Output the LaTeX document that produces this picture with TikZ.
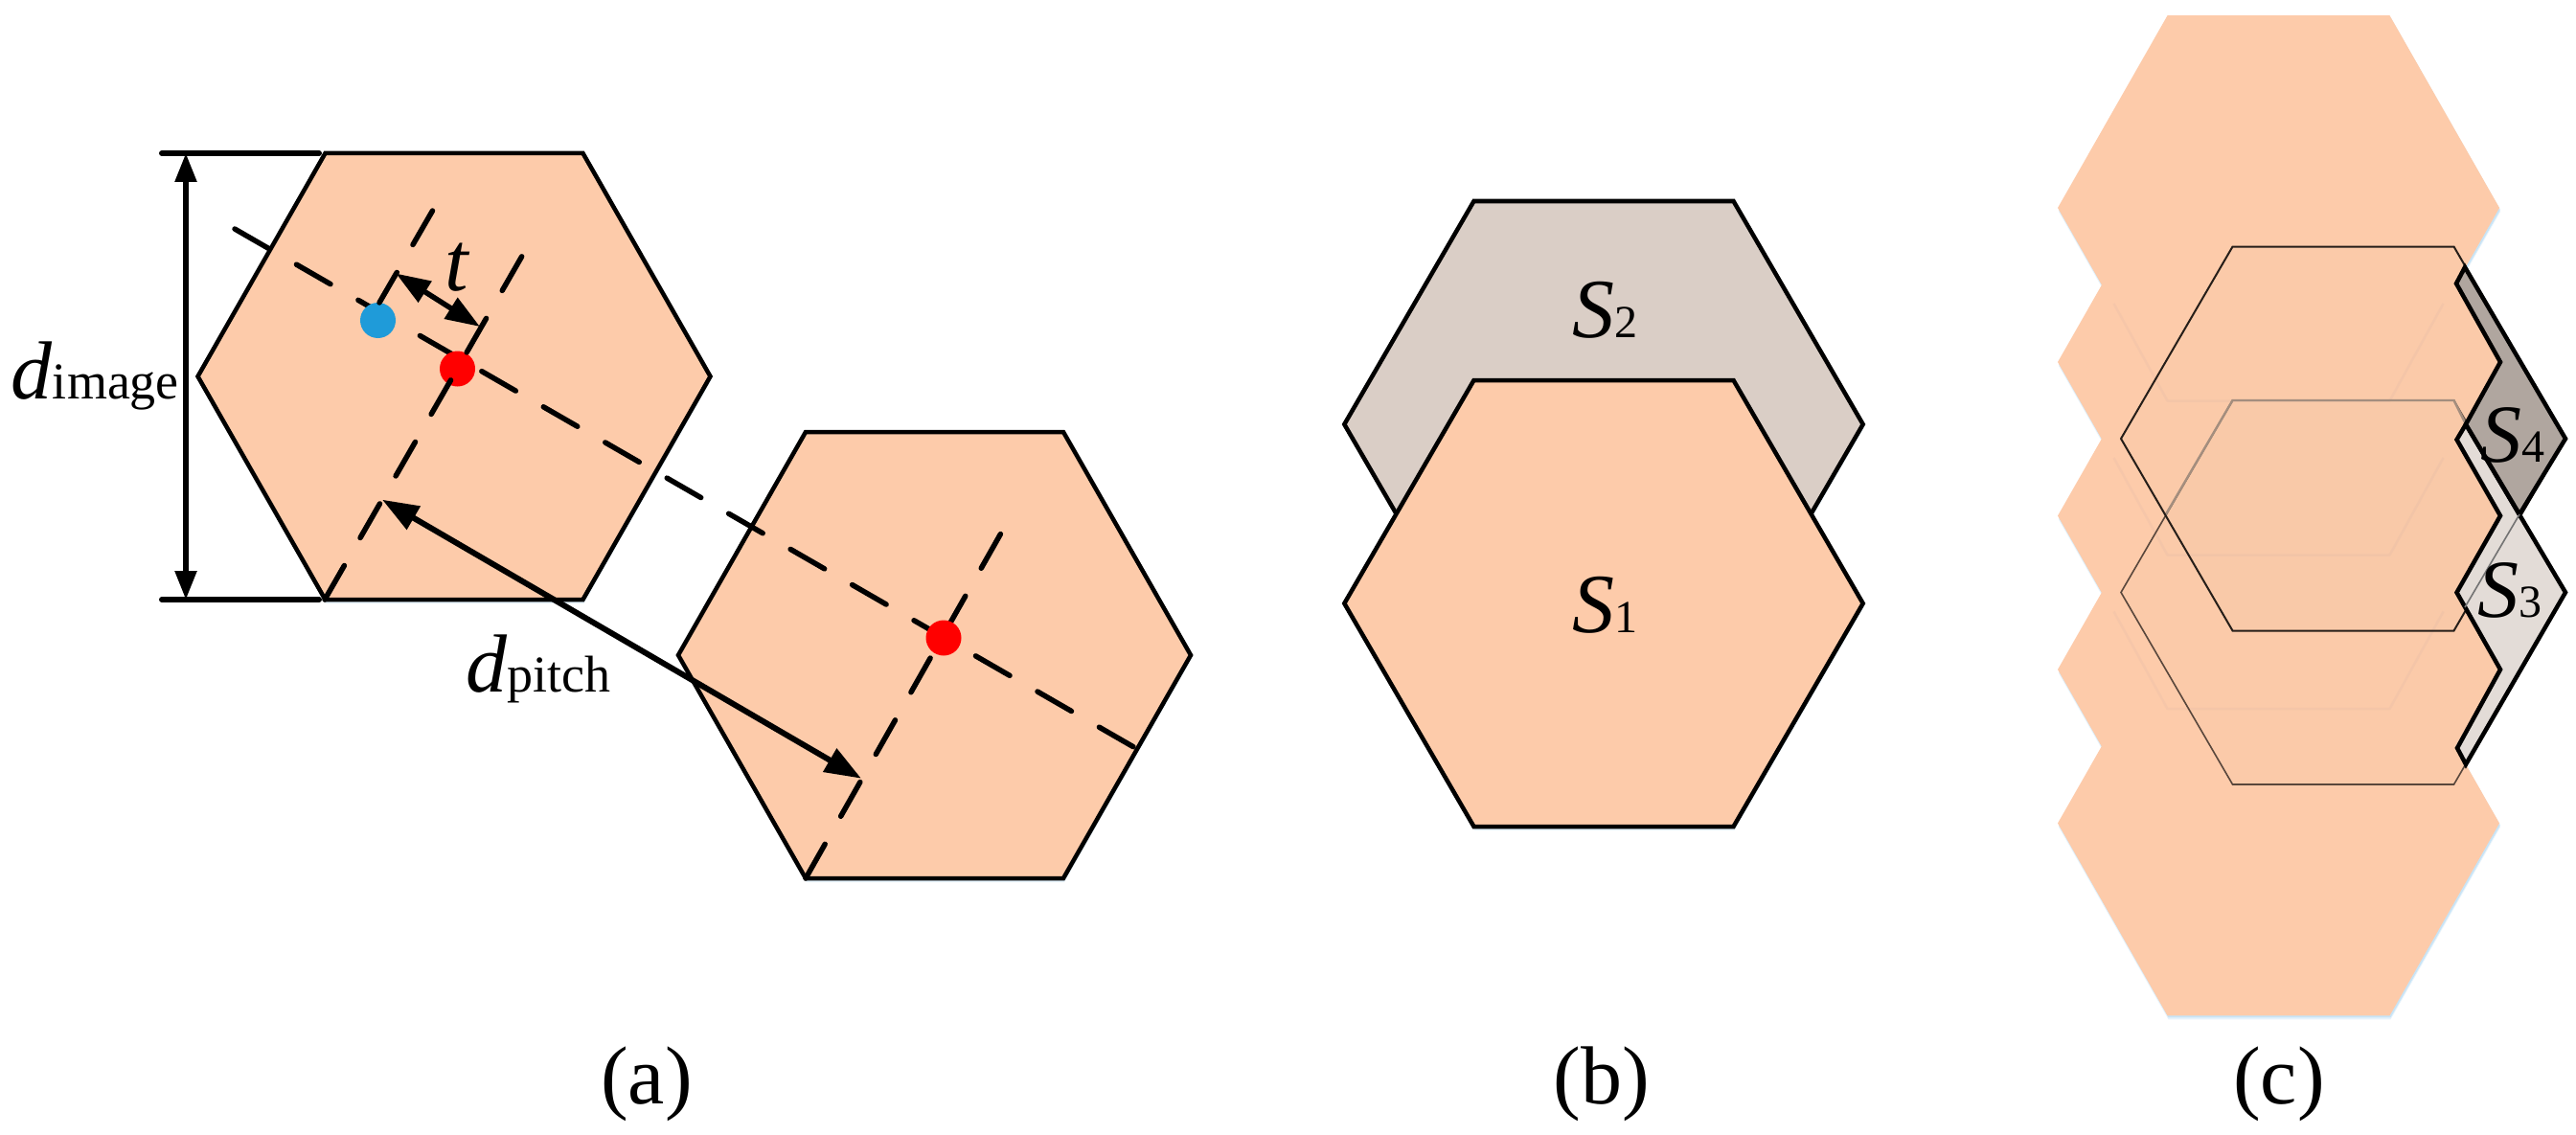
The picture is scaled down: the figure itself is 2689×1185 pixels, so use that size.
\documentclass[tikz,border=0pt]{standalone}
\usepackage{fontspec}
\setmainfont{Liberation Serif}
\usetikzlibrary{arrows.meta}
\definecolor{peach}{HTML}{FDCBAA}
\definecolor{sTwo}{HTML}{DACEC6}
\definecolor{sThree}{HTML}{E3DCD7}
\definecolor{sFour}{HTML}{B0A69F}
\definecolor{shadowblue}{HTML}{5AAFE8}
\definecolor{dotblue}{HTML}{1F9BD9}
\definecolor{ghost}{HTML}{E6BDA8}
\definecolor{dimedge}{HTML}{A58E7E}
% centre x, centre y, half width, half top edge, half height
\newcommand{\hexp}[5]{(#1-#3,#2) -- (#1-#4,#2-#5) -- (#1+#4,#2-#5) -- (#1+#3,#2) -- (#1+#4,#2+#5) -- (#1-#4,#2+#5) -- cycle}
\newcommand{\shex}[5]{%
  \fill[shadowblue,opacity=.14] \hexp{#1+1}{#2+4}{#3}{#4}{#5};
  \fill[shadowblue,opacity=.22] \hexp{#1+1}{#2+2}{#3}{#4}{#5};}
\newcommand{\dlab}[2]{{\fontsize{86}{86}\selectfont\itshape #1}{\fontsize{54}{54}\selectfont #2}}
\tikzset{
  hexline/.style={line width=4.5pt,line join=miter},
  dashline/.style={line width=5.5pt,line cap=round,dash pattern=on 41pt off 33.4pt},
  capline/.style={line width=6pt,line cap=round},
  thickedge/.style={line width=4.5pt,line join=miter,draw=black},
  textlab/.style={inner sep=0pt,outer sep=0pt,anchor=base west,text=black},
  caplab/.style={inner sep=0pt,outer sep=0pt,anchor=base,font=\fontsize{86}{86}\selectfont},
  dotnode/.style={circle,inner sep=0pt,minimum size=37pt,draw=none},
  dimboth/.style={line width=5.5pt,{Triangle[length=30pt,width=22pt]}-{Triangle[length=30pt,width=22pt]}},
  tarrow/.style={line width=5.5pt,{Triangle[length=36pt,width=25pt]}-{Triangle[length=36pt,width=25pt]}},
  parrow/.style={line width=6pt,{Triangle[length=38pt,width=27pt]}-{Triangle[length=38pt,width=27pt]}},
  ghostline/.style={line width=2.5pt,ghost,opacity=.3,line join=round}
}
\begin{document}
\begin{tikzpicture}[x=1pt,y=-1pt]
\useasboundingbox (0,0) rectangle (2689,1185);
\fill[white] (0,0) rectangle (2689,1185);

% ---------- panel (a)
\shex{474}{393}{267.5}{134.5}{233}
\shex{975.5}{684}{267.5}{134.5}{233}
\filldraw[hexline,fill=peach] \hexp{474}{393}{267.5}{134.5}{233};
\filldraw[hexline,fill=peach] \hexp{975.5}{684}{267.5}{134.5}{233};

\coordinate (capTL) at (169,160);
\coordinate (capTR) at (333,160);
\coordinate (capBL) at (169,626);
\coordinate (capBR) at (333,626);
\coordinate (dimT) at (194,160);
\coordinate (dimB) at (194,626);
\draw[capline] (capTL) -- (capTR);
\draw[capline] (capBL) -- (capBR);
\draw[dimboth] (dimT) -- (dimB);

\coordinate (longS) at (245,239);
\coordinate (longE) at (1187,782);
\draw[dashline] (longS) -- (longE);

\node[dotnode,fill=dotblue] (blue) at (394.5,334.5) {};
\node[dotnode,fill=red] (redA) at (477.5,385) {};

\coordinate (perpAS) at (339,626);
\coordinate (perpAE) at (548,262);
\draw[dashline] (perpAS) -- (perpAE);
\coordinate (tS) at (451.5,220);
\coordinate (tE) at (396,316);
\draw[dashline] (tS) -- (tE);

\coordinate (perpBS) at (841,917);
\coordinate (perpBE) at (1047,553);
\draw[dashline] (perpBS) -- (perpBE);
\node[dotnode,fill=red] (redB) at (985,666) {};

\coordinate (tL) at (413.3,285.5);
\coordinate (tR) at (501,341);
\draw[tarrow] (tL) -- (tR);
\coordinate (pL) at (399,521.7);
\coordinate (pR) at (899,812.7);
\draw[parrow] (pL) -- (pR);

\node[textlab] (dimage) at (12,416) {\dlab{d}{image}};
\node[textlab] (tlabel) at (464,303) {\fontsize{88}{88}\selectfont\itshape t};
\node[textlab] (dpitch) at (486,722) {\dlab{d}{pitch}};
\node[caplab] (capa) at (675,1152) {(a)};

% ---------- panel (b)
\shex{1674}{443}{270.7}{135.5}{233}
\shex{1674}{630}{270.7}{135.5}{233}
\filldraw[thickedge,fill=sTwo] \hexp{1674}{443}{270.7}{135.5}{233};
\filldraw[thickedge,fill=peach] \hexp{1674}{630}{270.7}{135.5}{233};
\node[textlab] (stwo) at (1641,352) {{\fontsize{88}{88}\selectfont\itshape S}{\fontsize{48}{48}\selectfont 2}};
\node[textlab] (sone) at (1641,660) {{\fontsize{88}{88}\selectfont\itshape S}{\fontsize{48}{48}\selectfont 1}};
\node[caplab] (capb) at (1672,1152) {(b)};

% ---------- panel (c)
\foreach \cy in {859.5,699,538.5,378,217}{
  \shex{2378.5}{\cy}{230.5}{116}{200.8}
}
\foreach \cy in {859.5,699,538.5,378,217}{
  \fill[peach] \hexp{2378.5}{\cy}{230.5}{116}{200.8};
}
% faint edges of the upper hexagons, seen through the stack
\foreach \cy in {217,378,538.5}{
  \draw[ghostline] (2378.5-172,\cy+100) -- (2378.5-116,\cy+201.5) -- (2378.5+116,\cy+201.5) -- (2378.5+172,\cy+100);
}
\filldraw[line width=1.6pt,draw=black!65!peach,fill=white!60!black,fill opacity=.02] \hexp{2446}{618.5}{232}{115.5}{200.5};
% the part of the lower outline that lies under the upper sheet is paler
\draw[line width=2.4pt,dimedge] (2260,538.5) -- (2330.5,418) -- (2561.5,418) -- (2574,443);
\filldraw[line width=2pt,draw=black!85!peach,fill=white!60!black,fill opacity=.02] \hexp{2446}{458}{232}{115.5}{200.5};

\filldraw[thickedge,fill=sThree] (2574,443) -- (2678,618.5) -- (2574,798) -- (2565,781) -- (2610,699) -- (2564.5,618.6) -- (2610,538.5) -- (2564.5,459) -- cycle;
\filldraw[thickedge,fill=sFour] (2573,279) -- (2678,458) -- (2630,537) -- (2574,443) -- (2610,378) -- (2564,296) -- cycle;
\coordinate (thinS) at (2630,537);
\coordinate (thinE) at (2573,634);
\draw[line width=1.6pt,black!55] (thinS) -- (thinE);
\node[textlab] (sfour) at (2589,482) {{\fontsize{86}{86}\selectfont\itshape S}{\fontsize{48}{48}\selectfont 4}};
\node[textlab] (sthree) at (2586,644.5) {{\fontsize{86}{86}\selectfont\itshape S}{\fontsize{48}{48}\selectfont 3}};
\node[caplab] (capc) at (2379,1152) {(c)};
\end{tikzpicture}
\end{document}
